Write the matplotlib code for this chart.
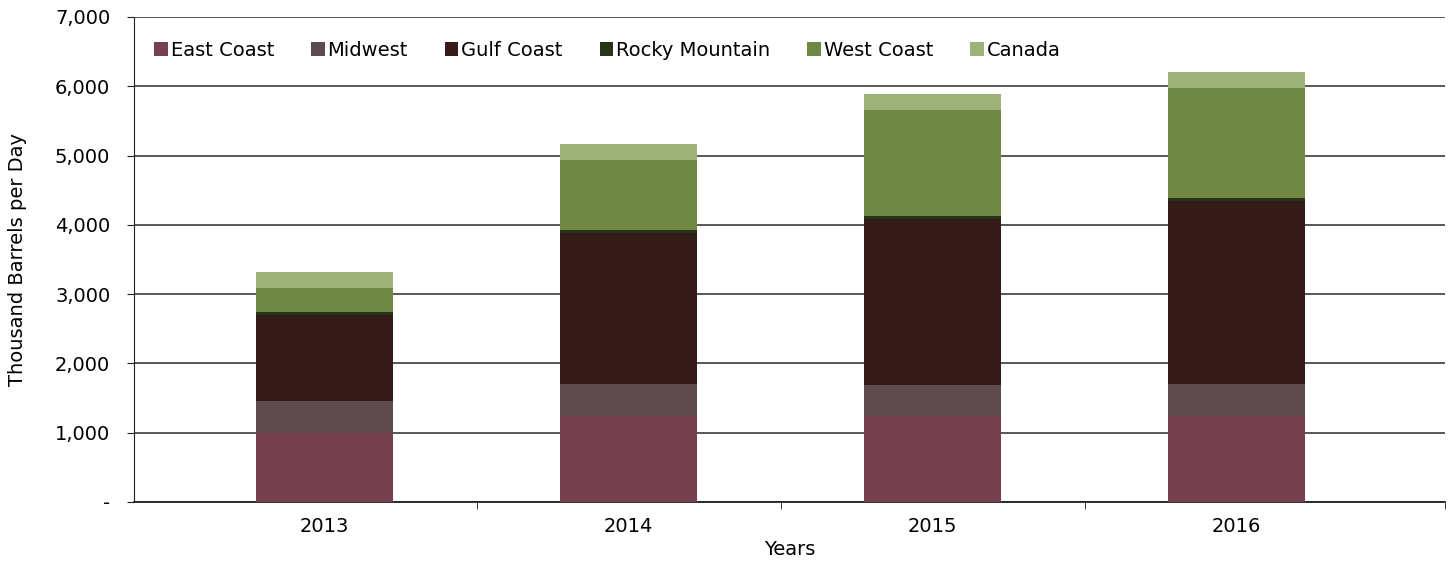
import numpy as np
import matplotlib.pyplot as plt
from matplotlib.ticker import FuncFormatter

years = ["2013", "2014", "2015", "2016"]
regions = ["East Coast", "Midwest", "Gulf Coast", "Rocky Mountain", "West Coast", "Canada"]

east_coast = [1000, 1240, 1240, 1240]
midwest = [457, 463, 448, 463]
gulf_coast = [1241, 2179, 2396, 2640]
rocky_mountain = [44, 43, 43, 44]
west_coast = [346, 1010, 1530, 1587]
canada = [231, 231, 230, 231]

colors = ["#77404f", "#5e4b4f", "#361c19", "#283418", "#6f8945", "#9eb27a"]

plt.rcParams['font.family'] = ['DejaVu Sans']
fs = 14

fig = plt.figure(figsize=(14.48, 5.72), dpi=100)
ax = fig.add_axes([0.0925, 0.1224, 0.9055, 0.8479])

x = np.arange(len(years))
bottom = np.zeros(len(years))
series = [east_coast, midwest, gulf_coast, rocky_mountain, west_coast, canada]
for name, vals, c in zip(regions, series, colors):
    ax.bar(x, vals, 0.45, bottom=bottom, color=c, label=name, zorder=3)
    bottom += np.array(vals)

ax.set_ylim(0, 7000)
ax.set_xlim(-0.627, 3.686)
ax.set_yticks(np.arange(0, 7001, 1000))
ax.yaxis.set_major_formatter(FuncFormatter(lambda v, p: "-" if v == 0 else f"{int(v):,}"))
ax.grid(axis='y', color='#3a3a3a', linewidth=1.2, zorder=0)
ax.set_axisbelow(True)

ax.set_xticks(x)
ax.set_xticklabels(years)
ax.set_xticks([0.5, 1.5, 2.5, 3.686], minor=True)
ax.tick_params(axis='x', which='major', length=0, labelsize=fs, pad=11)
ax.tick_params(axis='x', which='minor', length=5, color='#222222', direction='out')
ax.tick_params(axis='y', length=5, labelsize=fs, color='#222222', pad=12)

for s in ['top', 'right']:
    ax.spines[s].set_visible(False)
ax.spines['left'].set_color('#222222')
ax.spines['bottom'].set_color('#222222')
ax.spines['bottom'].set_linewidth(1.3)

ax.set_ylabel("Thousand Barrels per Day", fontsize=fs, labelpad=20)
ax.set_xlabel("Years", fontsize=fs, labelpad=3)

ax.legend(loc='upper left', bbox_to_anchor=(0.002, 0.987), ncol=6, frameon=False,
          fontsize=fs, handlelength=0.7, handleheight=0.7, handletextpad=0.15,
          columnspacing=1.9)

fig.savefig("out.png", dpi=100)
